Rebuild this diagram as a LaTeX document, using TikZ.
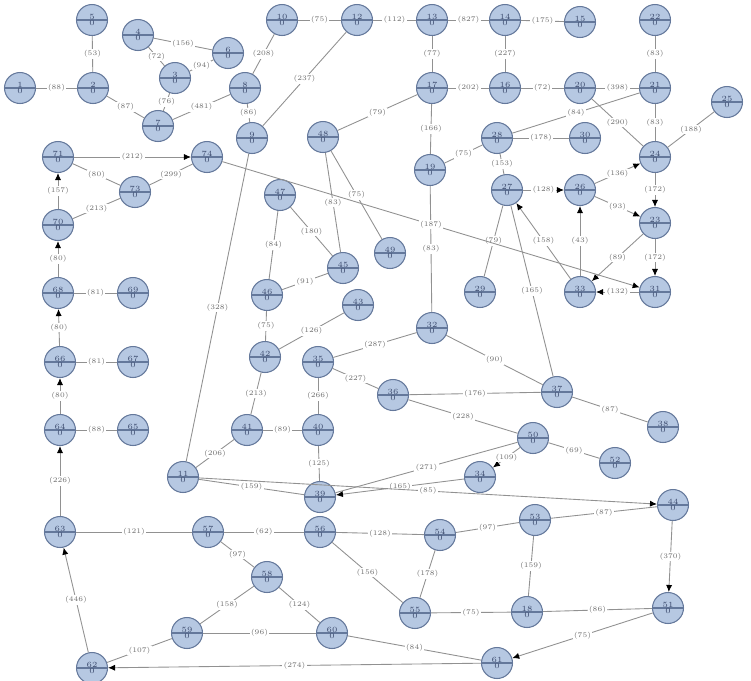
\documentclass[tikz,border=0pt]{standalone}
\usepackage{tikz}
\usetikzlibrary{arrows.meta,shapes.multipart}
\definecolor{vFill}{RGB}{182,200,226}
\definecolor{vLine}{RGB}{100,120,155}
\definecolor{vText}{RGB}{60,75,110}
\definecolor{eLine}{RGB}{145,145,145}
\definecolor{eText}{RGB}{110,110,110}

\begin{document}
\begin{tikzpicture}[x=0.02cm,y=-0.02cm,
    vtx/.style={circle split, draw=vLine, fill=vFill, line width=0.6pt,
      minimum size=0.62cm, inner sep=0pt, text=vText,
      font=\fontsize{4.5}{5}\selectfont},
    link/.style={draw=eLine, line width=0.5pt},
    arc/.style={link, -{Latex[length=4pt,width=3.5pt,color=black]}},
    wt/.style={font=\fontsize{4}{4}\selectfont, text=eText, fill=white, inner sep=0.6pt}]
    \useasboundingbox (0,0) rectangle (751,680);
    % Vertices (pixel positions)
    \foreach \n/\x/\y in {
      5/92/20, 4/138/35, 6/228/53, 3/175/78, 1/20/88, 2/93/88, 7/158/126,
      8/245/88, 9/252/138, 10/282/20, 12/357/20, 13/432/20, 14/505/20,
      15/580/22, 22/655/20, 17/432/88, 16/505/88, 20/580/88, 21/655/88,
      25/727/102, 71/58/157, 74/207/157, 73/135/192, 48/323/137, 28/497/138,
      30/585/138, 24/655/157, 19/430/170, 70/58/225, 47/280/195, 27/507/190,
      26/580/190, 23/655/223, 49/390/253, 29/480/292, 33/580/292, 31/655/292,
      45/343/268, 68/58/293, 69/133/293, 46/267/295, 43/358/305, 32/432/328,
      66/60/362, 67/133/362, 42/265/357, 35/318/362, 36/393/395, 37/557/392,
      38/663/427, 64/60/430, 65/133/430, 41/247/430, 40/318/430, 11/183/477,
      39/320/497, 34/480/477, 50/533/438, 52/615/463, 44/673/505, 63/60/532,
      57/208/532, 56/320/532, 54/440/535, 53/535/520, 58/267/577, 59/187/633,
      60/332/633, 55/415/613, 18/527/612, 51/668/608, 61/497/663, 62/92/668}
      \node[vtx] (v\n) at (\x,\y) {\n \nodepart{lower} 0};
    % Undirected connections
    \foreach \a/\b/\w in {
      5/2/53, 1/2/88, 4/6/156, 4/3/72, 6/3/94, 3/7/76, 2/7/87, 7/8/481,
      8/9/86, 10/8/208, 10/12/75, 12/13/112, 13/14/827, 14/15/175, 12/9/237,
      13/17/77, 14/16/227, 17/16/202, 16/20/72, 20/21/398, 22/21/83, 21/24/83,
      20/24/290, 28/21/84, 24/25/188, 17/48/79, 17/19/166, 19/28/75,
      28/30/178, 28/27/153, 27/29/79, 37/27/165, 19/32/83, 71/73/80,
      73/74/299, 70/73/213, 68/69/81, 66/67/81, 64/65/88, 11/9/328,
      41/11/206, 42/41/213, 48/45/83, 48/49/75, 47/46/84, 47/45/180,
      46/45/91, 46/42/75, 42/43/126, 35/32/287, 32/37/90, 35/36/227,
      36/37/176, 36/50/228, 37/38/87, 35/40/266, 41/40/89, 40/39/125,
      11/39/159, 50/39/271, 50/52/69, 53/44/87, 53/18/159, 18/51/86,
      54/53/97, 56/54/128, 57/56/62, 63/57/121, 57/58/97, 56/55/156,
      54/55/178, 55/18/75, 59/58/158, 58/60/124, 59/60/96, 60/61/84, 59/62/107}
      \draw[link] (v\a) -- node[wt] {(\w)} (v\b);
    % Directed connections
    \foreach \a/\b/\w in {
      27/26/128, 26/24/136, 24/23/172, 26/23/93, 23/31/172, 23/33/89,
      33/26/43, 31/33/132, 33/27/158, 74/31/187, 71/74/212, 70/71/157,
      68/70/80, 66/68/80, 64/66/80, 63/64/226, 34/39/165, 50/34/109,
      11/44/85, 44/51/370, 51/61/75, 61/62/274, 62/63/446}
      \draw[arc] (v\a) -- node[wt] {(\w)} (v\b);
\end{tikzpicture}
\end{document}
